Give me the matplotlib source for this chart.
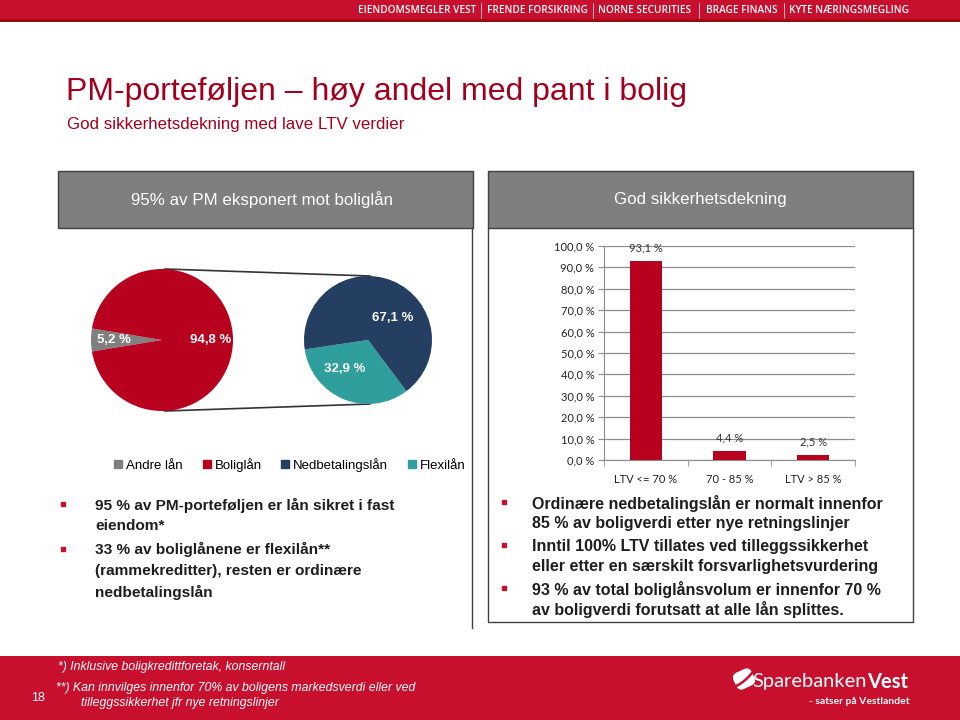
import matplotlib.pyplot as plt
import matplotlib.transforms as mtransforms
import numpy as np
from matplotlib.patches import Rectangle, FancyBboxPatch

# ---- data -------------------------------------------------------------
pie_outer_labels = ["Andre lån", "Boliglån"]
pie_outer_values = [5.2, 94.8]
pie_inner_labels = ["Flexilån", "Nedbetalingslån"]
pie_inner_values = [32.9, 67.1]
legend_labels = ["Andre lån", "Boliglån", "Nedbetalingslån", "Flexilån"]

ltv_categories = ["LTV <= 70 %", "70 - 85 %", "LTV > 85 %"]
ltv_values = [93.1, 4.4, 2.5]
ltv_ticks = [0, 10, 20, 30, 40, 50, 60, 70, 80, 90, 100]

banner_items = ["EIENDOMSMEGLER VEST", "FRENDE FORSIKRING", "NORNE SECURITIES",
                "BRAGE FINANS", "KYTE NÆRINGSMEGLING"]

title = "PM-porteføljen – høy andel med pant i bolig"
subtitle = "God sikkerhetsdekning med lave LTV verdier"
left_header = "95% av PM eksponert mot boliglån"
right_header = "God sikkerhetsdekning"

left_bullets = [
    ["95 % av PM-porteføljen er lån sikret i fast", "eiendom*"],
    ["33 % av boliglånene er flexilån**", "(rammekreditter), resten er ordinære", "nedbetalingslån"],
]
right_bullets = [
    ["Ordinære nedbetalingslån er normalt innenfor", "85 % av boligverdi etter nye retningslinjer"],
    ["Inntil 100% LTV tillates ved tilleggssikkerhet", "eller etter en særskilt forsvarlighetsvurdering"],
    ["93 % av total boliglånsvolum er innenfor 70 %", "av boligverdi forutsatt at alle lån splittes."],
]
footnotes = ["*) Inklusive boligkredittforetak, konserntall",
             "**) Kan innvilges innenfor 70% av boligens markedsverdi eller ved",
             "tilleggssikkerhet jfr nye retningslinjer"]
page_no = "18"

# ---- style ------------------------------------------------------------
RED = "#c8102e"
DARKRED = "#a3001e"
BAR_RED = "#b8001f"
GRAY = "#808080"
NAVY = "#243f61"
TEAL = "#2e9f9c"
LINE = "#404040"
ARIAL = ["Liberation Sans", "DejaVu Sans"]
CALIBRI = ["Lato", "DejaVu Sans"]


def pct(v):
    return f"{v:.1f} %".replace(".", ",")


fig = plt.figure(figsize=(9.6, 7.2), dpi=100)

# background layer in pixel coordinates (y down)
bg = fig.add_axes([0, 0, 1, 1])
bg.set_xlim(0, 960)
bg.set_ylim(720, 0)
bg.axis("off")

# top banner
bg.add_patch(Rectangle((0, 0), 960, 21, color=RED, lw=0))
bg.add_patch(Rectangle((0, 19), 960, 2.5, color="#a00818", lw=0))
banner_x = [417, 537, 645, 742, 849]
for x, s in zip(banner_x, banner_items):
    bg.text(x, 10.5, s, color="white", fontsize=7.2, fontweight="semibold",
            family=["Open Sans", "DejaVu Sans"], ha="center", va="center")
for x in [481, 593, 699, 784]:
    bg.plot([x, x], [3, 18], color="white", lw=0.6, alpha=0.8)

# titles
bg.text(66, 92, title, fontsize=23, color=DARKRED, family=ARIAL, va="center")
bg.text(67, 125, subtitle, fontsize=12.2, color=DARKRED, family=ARIAL, va="center")

# panel headers and frames
bg.add_patch(Rectangle((58, 171), 415, 57, fc="#7f7f7f", ec=LINE, lw=1))
bg.add_patch(Rectangle((488, 171), 425, 57, fc="#7f7f7f", ec=LINE, lw=1))
bg.text(262, 199.5, left_header, color="white", fontsize=12.2, family=ARIAL,
        ha="center", va="center")
bg.text(700, 199.5, right_header, color="white", fontsize=12.2, family=ARIAL,
        ha="center", va="center")
bg.plot([472, 472], [228, 628], color=LINE, lw=1)
bg.plot([488, 488, 912.5, 912.5], [228, 622, 622, 228], color=LINE, lw=1)

# bullets
def bullets(blocks, x_mark, x_text, y0, step, size):
    y = y0
    for block in blocks:
        bg.plot(x_mark, y - 1, marker="s", ms=3.3, color=RED)
        for line in block:
            bg.text(x_text, y, line, fontsize=size, fontweight="bold",
                    family=ARIAL, color="#1e1e1e", va="center")
            y += step
        y += 1.5


bullets(left_bullets, 62.5, 95, 505, 21.5, 11.1)
bullets(right_bullets, 504, 532, 503, 20.8, 11.5)

# footer
bg.add_patch(Rectangle((0, 656), 960, 64, color=RED, lw=0))
foot_font = ["Liberation Sans Narrow", "Liberation Sans"]
bg.text(58, 667, footnotes[0], color="white", fontsize=8.8, style="italic",
        family=foot_font, va="center")
bg.text(56, 688, footnotes[1], color="white", fontsize=8.8, style="italic",
        family=foot_font, va="center")
bg.text(81, 703, footnotes[2], color="white", fontsize=8.8, style="italic",
        family=foot_font, va="center")
bg.text(31, 698, page_no, color="white", fontsize=9, family=ARIAL, va="center")

# logo
rot = mtransforms.Affine2D().rotate_deg_around(744, 679, -25) + bg.transData
bg.add_patch(FancyBboxPatch((734, 670), 20, 18, boxstyle="round,pad=0,rounding_size=6",
                            fc="white", ec="none", transform=rot))
t = np.linspace(0, 1, 30)
bg.plot(736 + 16 * t, 686 - 13 * t + 6 * t * (1 - t), color=RED, lw=1.8)
bg.text(867, 682, "Sparebanken", color="white", fontsize=14.5, family=CALIBRI,
        ha="right", va="center")
bg.text(867, 682, "Vest", color="white", fontsize=14.5, fontweight="bold",
        family=CALIBRI, ha="left", va="center")
bg.text(910, 702, "- satser på Vestlandet", color="white", fontsize=7.5,
        fontweight="bold", family=CALIBRI, ha="right", va="center")

# ---- pies (pixel coordinates, y up) -----------------------------------
pax = fig.add_axes([0, 0, 1, 1])
c1, r1 = (162, 380), 71
c2, r2 = (368, 380), 64
w1, _ = pax.pie(pie_outer_values, colors=[GRAY, BAR_RED], center=c1, radius=r1,
                startangle=180 - pie_outer_values[0] * 1.8, counterclock=True,
                wedgeprops=dict(lw=0))
w2, _ = pax.pie(pie_inner_values, colors=[TEAL, NAVY], center=c2, radius=r2,
                startangle=188.5, counterclock=True, wedgeprops=dict(lw=0))
pax.set_xlim(0, 960)
pax.set_ylim(0, 720)
pax.axis("off")
pax.plot([c1[0] + 3, c2[0] + 2], [c1[1] + r1, c2[1] + r2], color="#333333", lw=1.2, zorder=0)
pax.plot([c1[0] + 3, c2[0] + 2], [c1[1] - r1, c2[1] - r2], color="#333333", lw=1.2, zorder=0)

for w, v in zip(w1, pie_outer_values):
    a = np.deg2rad((w.theta1 + w.theta2) / 2)
    d = 0.68 * r1
    pax.text(c1[0] + d * np.cos(a), c1[1] + d * np.sin(a), pct(v), color="white",
             fontsize=9.5, fontweight="bold", family=ARIAL, ha="center", va="center")
inner_label_pos = [(232, 0.58), (41, 0.52)]
for (ang, dist), v in zip(inner_label_pos, pie_inner_values):
    a = np.deg2rad(ang)
    pax.text(c2[0] + dist * r2 * np.cos(a), c2[1] + dist * r2 * np.sin(a), pct(v),
             color="white", fontsize=9.5, fontweight="bold", family=ARIAL,
             ha="center", va="center")

colors_by_label = {"Andre lån": GRAY, "Boliglån": BAR_RED,
                   "Nedbetalingslån": NAVY, "Flexilån": TEAL}
handles = [Rectangle((0, 0), 1, 1, color=colors_by_label[l]) for l in legend_labels]
fig.legend(handles, legend_labels, loc="center", bbox_to_anchor=(290 / 960, 1 - 465 / 720),
           ncol=4, frameon=False, handlelength=0.6, handleheight=0.6,
           handletextpad=0.3, columnspacing=1.5, prop=dict(family=ARIAL, size=9.5))

# ---- LTV bar chart ----------------------------------------------------
bax = fig.add_axes([604 / 960, 1 - 460 / 720, 251 / 960, 214 / 720])
x = np.arange(len(ltv_categories))
bars = bax.bar(x, ltv_values, width=0.39, color=BAR_RED, zorder=3)
for b, v in zip(bars, ltv_values):
    bax.annotate(pct(v), (b.get_x() + b.get_width() / 2, v), xytext=(0, 5),
                 textcoords="offset points", ha="center", va="bottom",
                 fontsize=8, family=CALIBRI, color="#333333")
bax.set_xlim(-0.5, 2.5)
bax.set_ylim(0, 100)
bax.set_yticks(ltv_ticks)
bax.set_yticklabels([pct(v) for v in ltv_ticks])
bax.set_xticks(x)
bax.set_xticklabels(ltv_categories)
bax.set_xticks([-0.5, 0.5, 1.5, 2.5], minor=True)
bax.grid(axis="y", color="#8c8c8c", lw=0.9, zorder=0)
for s in ["top", "right"]:
    bax.spines[s].set_visible(False)
for s in ["left", "bottom"]:
    bax.spines[s].set_color("#8c8c8c")
bax.tick_params(axis="y", length=4, color="#8c8c8c", labelsize=8, pad=3)
bax.tick_params(axis="x", which="major", length=0, labelsize=8, pad=10)
bax.tick_params(axis="x", which="minor", length=4, color="#8c8c8c")
for lab in bax.get_xticklabels() + bax.get_yticklabels():
    lab.set_family(CALIBRI)
    lab.set_color("#222222")
bax.set_facecolor("none")

fig.savefig("out.png", dpi=100)
